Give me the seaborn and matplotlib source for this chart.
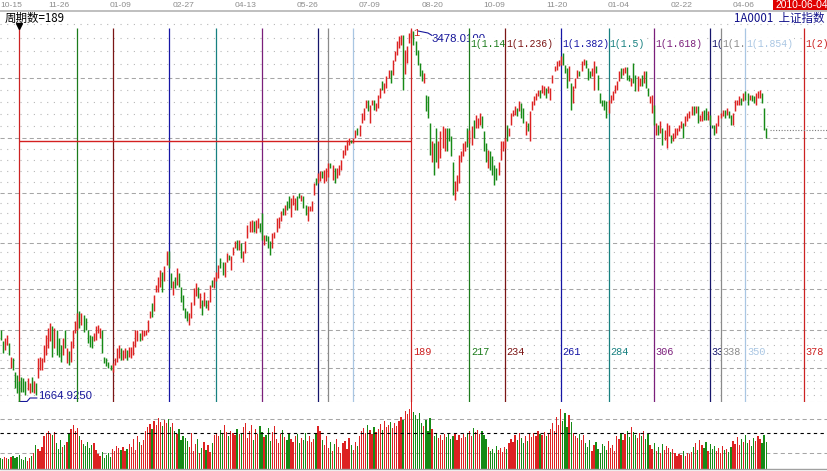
import numpy as np
import pandas as pd
import matplotlib
matplotlib.use("Agg")
import matplotlib.pyplot as plt
from matplotlib.patches import Rectangle
import seaborn as sns

# ------------------------------------------------------------------ data
first_bar = -9          # 2008-10-15 ; bar 0 = 2008-10-28 (low 1664.925)
cycle_len = 189          # 周期数
low_price = 1664.925
high_price = 3478.01

opens = [
    # bars -9 .. 55
    2016, 1960, 1919, 1943, 1951, 1830, 1878, 1813, 1797, 1765,
    1789, 1781, 1765, 1724, 1708, 1789, 1708, 1757,
    1781, 1822, 1822, 1862, 1895, 1927, 1960, 2033, 1927, 2016, 1976, 1943,
    1895, 2016, 1854, 1911, 1862, 1927, 2000, 2016, 2106, 2041, 2089, 2073,
    2016, 1992, 1984, 1960, 1968, 2000, 1976, 2016, 1886, 1878, 1862, 1846,
    1813, 1846, 1862, 1878, 1927, 1870, 1878, 1919, 1886, 1878, 1895,
    # bars 56 .. 117
    1935, 1960, 2000, 1968, 1984, 1992, 2008, 2073, 2146, 2106, 2203, 2203,
    2227, 2300, 2252, 2333, 2398, 2292, 2187, 2276, 2236, 2292, 2227, 2187,
    2122, 2106, 2041, 2073, 2138, 2179, 2227, 2122, 2162, 2130, 2162, 2114,
    2154, 2260, 2219, 2252, 2268, 2365, 2349, 2276, 2349, 2382, 2309, 2382,
    2414, 2455, 2406, 2439, 2349, 2390, 2463, 2495, 2495, 2544, 2487, 2512,
    2536, 2585,
    # bars 118 .. 178
    2430, 2479, 2471, 2447, 2414, 2463, 2495, 2512, 2544, 2609, 2577, 2642,
    2666, 2568, 2625, 2601, 2666, 2682, 2642, 2666, 2625, 2544, 2593, 2593,
    2674, 2755, 2731, 2739, 2788, 2731, 2739, 2763, 2828, 2747, 2804, 2755,
    2771, 2796, 2853, 2869, 2893, 2918, 2942, 2926, 2950, 2999, 2958, 3023,
    3039, 3096, 3137, 3023, 3112, 3137, 3080, 3096, 3145, 3226, 3169, 3194,
    3242,
    # bars 179 .. 241
    3283, 3259, 3324, 3356, 3389, 3405, 3454, 3260, 3315, 3413, 3437, 3470,
    3421, 3380, 3315, 3283, 3218, 3161, 3153, 3023, 2836, 2926, 2999, 2804,
    2853, 2901, 2885, 2999, 2999, 2958, 2836, 2650, 2690, 2731, 2836, 2861,
    2885, 2999, 2926, 2918, 3039, 2999, 2999, 3015, 3056, 2983, 2926, 2804,
    2885, 2861, 2820, 2804, 2771, 2845, 2885, 2901, 3015, 2958, 3015, 3056,
    3064, 3096, 3080,
    # bars 242 .. 304
    3121, 3096, 2966, 3023, 2934, 3088, 3112, 3137, 3153, 3186, 3169, 3161,
    3194, 3169, 3137, 3218, 3275, 3283, 3299, 3307, 3364, 3307, 3291, 3226,
    3218, 3121, 3194, 3242, 3275, 3275, 3307, 3332, 3291, 3275, 3251, 3186,
    3299, 3259, 3169, 3137, 3137, 3129, 3072, 3121, 3137, 3169, 3186, 3226,
    3291, 3259, 3267, 3294, 3259, 3202, 3315, 3259, 3177, 3202, 3259, 3218,
    3275, 3194, 3121,
    # bars 305 .. 360
    3072, 3112, 2966, 3015, 2974, 2999, 2942, 2901, 2958, 2966, 2934, 2950,
    2966, 2983, 2999, 3023, 3007, 3031, 3048, 3064, 3104, 3072, 3104, 3031,
    3031, 3088, 3096, 3039, 3064, 3015, 3015, 2974, 3007, 3048, 3056, 3088,
    3064, 3080, 3064, 3015, 3080, 3112, 3112, 3145, 3129, 3177, 3169, 3137,
    3161, 3153, 3112, 3145, 3145, 3169, 3096, 3000,
]

closes = [
    # bars -9 .. 55
    1968, 1903, 1976, 1992, 1895, 1886, 1822, 1732, 1708, 1664.93,
    1716, 1716, 1700, 1781, 1757, 1716, 1765, 1700,
    1878, 1886, 1878, 1943, 1992, 2024, 2049, 1886, 2024, 1895, 1886, 1862,
    1976, 1927, 1927, 1846, 1960, 2016, 2057, 2097, 2024, 2097, 2008, 2016,
    1951, 1935, 1927, 2000, 2033, 2041, 2024, 1903, 1854, 1838, 1830, 1822,
    1854, 1878, 1927, 1943, 1870, 1919, 1927, 1870, 1935, 1935, 1960,
    # bars 56 .. 117
    2016, 2016, 1960, 2016, 2016, 2016, 2065, 2106, 2081, 2187, 2236, 2276,
    2309, 2203, 2325, 2398, 2317, 2219, 2252, 2219, 2317, 2227, 2154, 2114,
    2073, 2057, 2097, 2154, 2219, 2244, 2171, 2195, 2089, 2203, 2122, 2162,
    2236, 2227, 2276, 2300, 2333, 2317, 2284, 2349, 2390, 2357, 2374, 2422,
    2447, 2406, 2455, 2365, 2398, 2447, 2528, 2544, 2552, 2495, 2552, 2560,
    2495, 2455,
    # bars 118 .. 178
    2479, 2447, 2414, 2382, 2487, 2495, 2560, 2568, 2593, 2577, 2625, 2601,
    2609, 2658, 2674, 2658, 2601, 2658, 2674, 2609, 2577, 2617, 2617, 2642,
    2731, 2723, 2780, 2788, 2755, 2796, 2804, 2828, 2804, 2820, 2731, 2804,
    2820, 2845, 2893, 2918, 2942, 2950, 2926, 2950, 2991, 2966, 3015, 3072,
    3096, 3137, 3080, 3112, 3137, 3088, 3121, 3161, 3194, 3186, 3218, 3251,
    3283,
    # bars 179 .. 241
    3218, 3332, 3372, 3421, 3445, 3454, 3186, 3380, 3397, 3462, 3478, 3405,
    3356, 3307, 3251, 3226, 3267, 3080, 3048, 2869, 2934, 2771, 2836, 2934,
    2983, 3007, 2999, 2885, 2934, 2861, 2674, 2739, 2771, 2869, 2885, 2926,
    2934, 2909, 2991, 3007, 2950, 3064, 3048, 3072, 2999, 2885, 2836, 2893,
    2796, 2771, 2723, 2747, 2836, 2934, 2934, 2950, 2934, 2999, 3072, 3088,
    3104, 3056, 3129,
    # bars 242 .. 304
    3048, 3023, 3031, 2983, 3080, 3129, 3153, 3169, 3186, 3145, 3210, 3202,
    3145, 3202, 3194, 3259, 3299, 3324, 3332, 3348, 3307, 3267, 3194, 3299,
    3088, 3202, 3242, 3283, 3251, 3324, 3337, 3291, 3234, 3242, 3291, 3324,
    3267, 3186, 3121, 3104, 3088, 3048, 3137, 3161, 3177, 3210, 3226, 3275,
    3242, 3291, 3294, 3234, 3226, 3242, 3218, 3177, 3251, 3242, 3202, 3275,
    3194, 3153, 3153,
    # bars 305 .. 360
    3161, 3015, 3023, 2966, 3031, 2918, 2991, 3023, 3015, 2926, 2974, 2999,
    2999, 3015, 3031, 2950, 3056, 3072, 3080, 3104, 3064, 3104, 3023, 3064,
    3080, 3039, 3039, 3080, 3015, 2999, 2966, 3023, 3064, 3072, 3088, 3048,
    3096, 3048, 3015, 3072, 3137, 3137, 3153, 3112, 3169, 3137, 3112, 3161,
    3129, 3121, 3169, 3177, 3186, 3121, 2991, 2950,
]

volumes = [
    11, 10, 12, 11, 10, 12, 13, 11, 12,
    14, 10, 9, 12, 8, 11, 13,
    16, 24, 20, 18, 22,
    33, 36, 38, 35, 34, 37,
    26, 20, 29, 22, 24, 27,
    35, 40, 44, 38, 41, 33,
    29, 25, 23, 27, 21, 24, 26,
    19, 15, 13, 17, 11, 14, 16, 12,
    20, 18, 23, 21, 19, 22, 18, 20,
    25, 22, 30, 19, 33, 27, 24, 29,
    38, 42, 45, 40, 48, 44, 51, 47, 43, 49, 46, 50,
    42, 46, 38, 35, 40, 29, 33, 31,
    28, 22, 36, 18, 25, 30, 16, 21, 27, 19, 24, 17, 26,
    34, 36, 33, 39, 35, 44, 37, 33, 38, 36, 34, 40, 35,
    36, 42, 46, 31, 38, 44, 29, 40, 35, 43, 37, 32,
    34, 41, 28, 37, 43, 30, 26, 35, 39, 32, 29, 36,
    30, 27, 33, 35, 26, 31, 29, 36, 28, 33, 27, 30, 35, 43, 38,
    29, 24, 33, 21, 27, 18, 25, 30, 22, 16, 26, 28, 20, 31, 24, 19, 27, 23,
    33, 38, 41, 36, 44, 39, 35, 42, 37,
    40, 45, 39, 48, 42, 44, 47, 41, 46, 43, 48,
    52, 49, 58, 55, 60, 67, 57, 54, 50, 56,
    46, 43, 49, 38, 51, 40,
    33, 36, 31, 34, 29, 35, 32, 36, 30, 33, 36, 29, 34, 31, 35, 32,
    36, 38, 33, 41, 37, 39, 35, 38, 34, 30,
    22, 18, 20, 16, 23, 19, 21, 17, 22, 20, 26,
    30, 27, 34, 29, 36, 31, 26, 33, 28, 35, 32,
    36, 33, 38, 35, 34, 37, 33, 36,
    40, 46, 38, 52, 44, 60, 48, 56, 42, 54, 47,
    36, 33, 31, 35, 29, 34,
    26, 22, 29, 18, 24, 27, 20, 16, 25, 23, 19, 28, 21, 24, 18,
    33, 30, 36, 29, 35, 38, 32, 42, 37, 34, 31, 36, 33, 38, 30, 35,
    24, 20, 26, 18, 22, 16, 25, 19, 23, 21, 17, 20,
    16, 13, 15, 14, 18, 13, 16, 15, 17,
    22, 26, 19, 29, 24, 21, 27, 18, 25, 20, 23,
    18, 21, 16, 23, 19, 20, 17, 22,
    28, 25, 32, 24, 30, 27, 34, 26, 29, 23, 31, 28, 33, 30, 26, 34, 27,
]

fib_ratios = [0, 0.146, 0.236, 0.382, 0.5, 0.618, 0.764, 0.786, 0.854, 1,
              1.146, 1.236, 1.382, 1.5, 1.618, 1.764, 1.786, 1.854, 2]
date_labels = ["10-15", "11-26", "01-09", "02-27", "04-13", "05-26", "07-09",
               "08-20", "10-09", "11-20", "01-04", "02-22", "04-06"]
date_bars = [-9, 21, 51, 81, 111, 141, 171, 201, 231, 261, 291, 321, 351]
ref_line_price = 2937      # red horizontal line
last_line_price = 2990     # dotted current-price line
vol_ma_level = 36
vol_grid = [16, 50]
title_left = "周期数=189"
title_right = "1A0001  上证指数"
date_box = "2010-06-04"

# ------------------------------------------------------------------ style
W, H = 827, 471
RED, GREEN = "#dd2222", "#168a16"
NAVY_TXT = "#16169a"
ratio_color = {0.0: "#cc2222", 0.146: "#1b7b1b", 0.236: "#7b1515",
               0.382: "#1515a5", 0.5: "#178080", 0.618: "#7b1f7b",
               0.764: "#15156b", 0.786: "#8a8a8a", 0.854: "#a9c6e3"}

sns.set_theme(style="white")
plt.rcParams["font.family"] = ["DejaVu Sans", "Noto Sans CJK SC"]

fig = plt.figure(figsize=(W / 100, H / 100), dpi=100)
fig.patch.set_facecolor("white")

Y_TOP, Y_BOT = 11, 402
X0, DX = 19.2, 2.075
P_TOP = low_price * 1.1 ** 8
P_BOT = low_price


def fy(py):
    return 1 - py / H


def bar_at(px):
    return (px - X0) / DX


def price_at(py):
    return P_TOP - (py - Y_TOP) * (P_TOP - P_BOT) / (Y_BOT - Y_TOP)


ax = fig.add_axes([0, fy(Y_BOT), 1, (Y_BOT - Y_TOP) / H])
axv = fig.add_axes([0, fy(469), 1, (469 - Y_BOT) / H])
xlim = (bar_at(0), bar_at(W))
for a in (ax, axv):
    a.set_facecolor("white")
    for s in a.spines.values():
        s.set_visible(False)

# ---- price grid (10% steps, 5 dotted subdivisions)
for k in range(8):
    p0 = low_price * 1.1 ** k
    p1 = low_price * 1.1 ** (k + 1)
    ax.axhline(p0, color="#a6a6a6", lw=0.75, ls=(0, (4, 3)), zorder=1)
    for j in range(1, 5):
        ax.axhline(p0 + (p1 - p0) * j / 5, color="#b8b8b8", lw=0.8,
                   ls=(0, (1, 5)), zorder=1)
ax.axhline(P_TOP, color="#b4b4b4", lw=1.2, zorder=1, clip_on=False)

# ---- candles
bars = np.arange(first_bar, first_bar + len(opens))
o = np.array(opens, float)
c = np.array(closes, float)
up = c > o
lo = np.minimum(o, c)
hi = np.maximum(o, c)
ax.vlines(bars[up], lo[up], hi[up], color=RED, lw=1.05, zorder=6)
ax.vlines(bars[~up], lo[~up], hi[~up], color=GREEN, lw=1.05, zorder=6)

# ---- fibonacci time-cycle lines
line_top = price_at(28)
y_top_lab = price_at(44)
y_bot_lab = price_at(352)
for r in fib_ratios:
    b = int(r * cycle_len + 0.5)
    frac = round(r % 1, 3)
    col = ratio_color[frac]
    ax.vlines(b, P_BOT, line_top, color=col, lw=0.9, zorder=5)
    if r > 1:
        ax.text(b + 0.6, y_top_lab, f"1({r:g})", color=col, fontsize=7.1,
                family="Liberation Mono", ha="left", va="center", zorder=4,
                bbox=dict(facecolor="white", edgecolor="none", pad=0.4))
    if r >= 1:
        ax.text(b + 0.8, y_bot_lab, str(b), color=col, fontsize=7.4,
                family="Liberation Mono", ha="left", va="center", zorder=4,
                bbox=dict(facecolor="white", edgecolor="none", pad=0.4))
ax.text(cycle_len + 0.7, price_at(33.5), "1", color=ratio_color[0.0],
        fontsize=7.4, family="Liberation Mono", ha="left", va="center", zorder=4)

# red reference line between low and high
ax.hlines(ref_line_price, 0, cycle_len, color="#d42020", lw=1.0, zorder=5)
# dotted current-price line
ax.hlines(last_line_price, bar_at(770), xlim[1], color="#7a7a7a", lw=0.8,
          ls=(0, (1, 1.5)), zorder=5)

# high / low annotations
ax.plot([bar_at(418), bar_at(428), bar_at(432)],
        [price_at(31), price_at(33), price_at(35.5)], color=NAVY_TXT, lw=0.8,
        zorder=3)
ax.text(bar_at(432), price_at(39.5), f"{high_price:.4f}", color=NAVY_TXT,
        fontsize=8.2, family="Liberation Sans", ha="left", va="center", zorder=3)
ax.plot([0, bar_at(27), bar_at(30), bar_at(37)],
        [price_at(401.5), price_at(401.5), price_at(398), price_at(398)],
        color=NAVY_TXT, lw=0.8, zorder=3, clip_on=False)
ax.text(bar_at(38), price_at(396), f"{low_price:.4f}", color=NAVY_TXT,
        fontsize=8.2, family="Liberation Sans", ha="left", va="center", zorder=3)

# period marker
ax.plot([0], [price_at(26)], marker="v", color="black", ms=4.5, zorder=7,
        clip_on=False)

ax.set_xlim(*xlim)
ax.set_ylim(P_BOT, P_TOP)
ax.set_xticks([])
ax.set_yticks([])
ax.set_xlabel("")
ax.set_ylabel("")

# ---- volume panel (seaborn)
vdf = pd.DataFrame({"bar": bars, "vol": volumes,
                    "dir": np.where(up, "up", "down")})
for lvl in vol_grid:
    axv.axhline(lvl, color="#a6a6a6", lw=0.75, ls=(0, (4, 3)), zorder=1)
axv.axhline(vol_ma_level, color="black", lw=0.8, ls=(0, (3, 3)), zorder=3)
sns.barplot(data=vdf, x="bar", y="vol", hue="dir",
            palette={"up": RED, "down": GREEN}, native_scale=True,
            dodge=False, width=0.62, saturation=1, errorbar=None,
            legend=False, linewidth=0, ax=axv, zorder=2)
axv.axhline(0, color="#a0a0a0", lw=1.0, zorder=4, clip_on=False)
axv.set_xlim(*xlim)
axv.set_ylim(0, 67)
axv.set_xticks([])
axv.set_yticks([])
axv.set_xlabel("")
axv.set_ylabel("")

# ---- header texts
for lab, b in zip(date_labels, date_bars):
    px = X0 + DX * b
    if b < 0:
        fig.text(0.5 / W, fy(5.5), lab, color="#8c8c8c", fontsize=6.1,
                 family="Liberation Sans", ha="left", va="center")
    else:
        fig.text((px - 4) / W, fy(5.5), lab, color="#8c8c8c", fontsize=6.1,
                 family="Liberation Sans", ha="center", va="center")
fig.patches.append(Rectangle((773 / W, fy(9.5)), 60 / W, 9.5 / H,
                             transform=fig.transFigure, facecolor="#e00000",
                             edgecolor="none"))
fig.text(775 / W, fy(5.0), date_box, color="white", fontsize=7.4,
         family="Liberation Sans", ha="left", va="center")
fig.text(5 / W, fy(18), title_left, color="black", fontsize=8.3,
         family=["Noto Sans CJK SC", "DejaVu Sans"], ha="left", va="center")
fig.text(734 / W, fy(18.5), title_right, color="#10108a", fontsize=8.3,
         family=["Noto Sans CJK SC", "DejaVu Sans"], ha="left", va="center")

fig.savefig("out.png", dpi=100)
